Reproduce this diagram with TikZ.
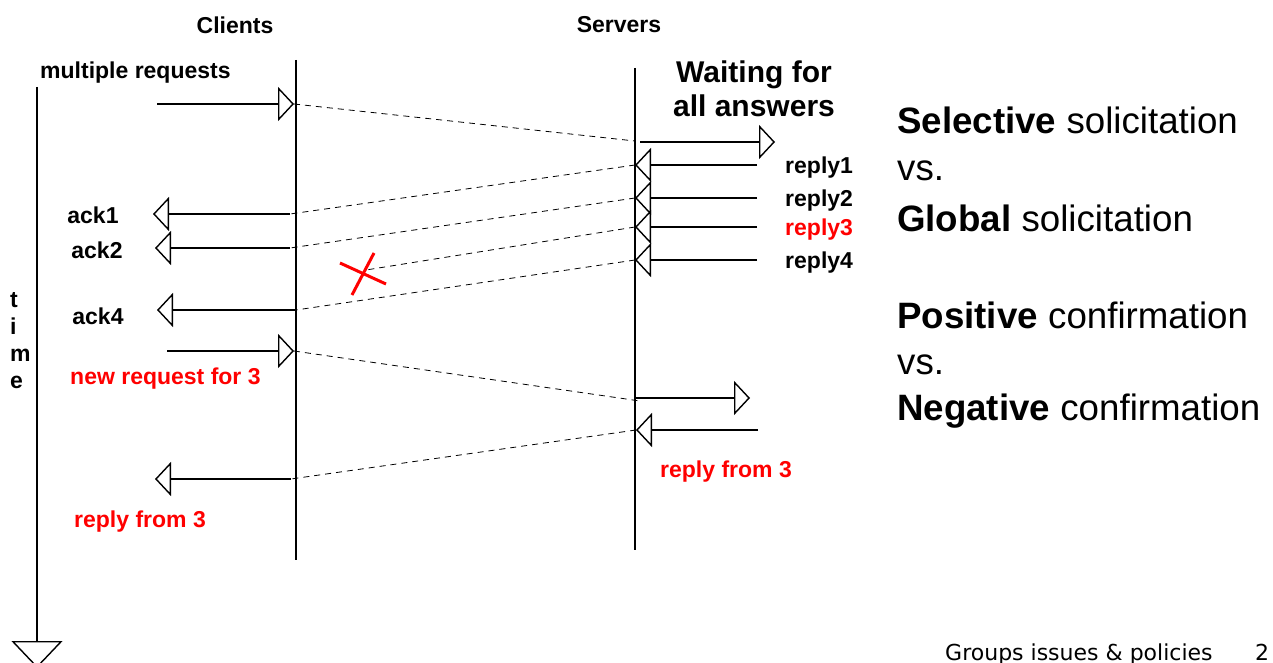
\documentclass[tikz,border=0pt]{standalone}
\usepackage{fontspec}
\setmainfont{Liberation Sans}
\newfontfamily\footfont{DejaVu Sans}
\usetikzlibrary{arrows.meta, calc, positioning}
\definecolor{rd}{RGB}{255, 0, 0}
\definecolor{b}{HTML}{000000}

\tikzset{
	lbl/.style={font=\fontsize{23}{27}\selectfont\bfseries, text=b, inner sep=0pt},
	redlbl/.style={lbl, text=rd},
	big/.style={font=\fontsize{36.7}{40}\selectfont, text=b, inner sep=0pt, anchor=west},
	msg/.style={draw=b, line width=1.4pt, -{Triangle[open, length=16pt, width=34pt]}},
	link/.style={draw=b, line width=0.8pt, dash pattern=on 6pt off 5pt}
}

\begin{document}
\begin{tikzpicture}[x=1pt, y=-1pt]
			\useasboundingbox (0, 0) rectangle (1273, 663);
			
			% time lines
			\coordinate (Ctop) at (296, 60);
			\coordinate (Cbot) at (296, 560);
			\coordinate (Stop) at (635, 68);
			\coordinate (Sbot) at (635, 550);
			\coordinate (Ttop) at (37, 87);
			\coordinate (Tbot) at (37, 668);
			
			\draw[draw=b, line width=1.4pt] (Ctop) -- (Cbot);
			\draw[draw=b, line width=1.4pt] (Stop) -- (Sbot);
			\draw[draw=b, line width=1.4pt, -{Triangle[open, length=27pt, width=51pt]}] (Ttop) -- (Tbot);
			
			\node[lbl] (clients) at (235, 25) {Clients};
			\node[lbl] (servers) at (619, 25) {Servers};
			\node[lbl, anchor=west] (multi) at (40, 73) {multiple requests};
			\node[lbl, font=\fontsize{30}{34}\selectfont\bfseries, align=center] (wait) at (754, 89) {Waiting for\\all answers};
			\node[lbl, anchor=north west, align=left, font=\fontsize{23}{27}\selectfont\bfseries] (time) at (10, 292) {t\\i\\m\\e};
			
			% first round
			\coordinate (Rq) at (157, 104);
			\coordinate (RqC) at (294, 104);
			\coordinate (RqS) at (635, 141);
			\coordinate (W) at (640, 142);
			\coordinate (We) at (775, 142);
			\draw[msg] (Rq) -- (RqC);
			\draw[link] (RqC) -- (RqS);
			\draw[msg] (W) -- (We);
			
			\foreach \i/\y/\c in {1/165/b, 2/198/b, 3/227/rd, 4/260/b}{
				\coordinate (R\i) at (757, \y);
				\coordinate (R\i S) at (635, \y);
				\draw[msg] (R\i) -- (R\i S);
				\node[lbl, text=\c, anchor=west] (reply\i) at (785, \y+3) {reply\i};
			}
			
			\coordinate (A1C) at (290, 214);
			\coordinate (A1) at (153, 214);
			\coordinate (A2C) at (290, 248);
			\coordinate (A2) at (155, 248);
			\coordinate (A4C) at (296, 310);
			\coordinate (A4) at (157, 310);
			\coordinate (lost) at (366, 270);
			
			\draw[msg] (A1C) -- (A1);
			\draw[msg] (A2C) -- (A2);
			\draw[msg] (A4C) -- (A4);
			\draw[link] (R1S) -- (A1C);
			\draw[link] (R2S) -- (A2C);
			\draw[link] (R3S) -- (lost);
			\draw[link] (R4S) -- (A4C);
			
			% lost reply
			\draw[draw=rd, line width=3pt] ($(lost)+(-26, -7)$) -- ($(lost)+(20, 14)$);
			\draw[draw=rd, line width=3pt] ($(lost)+(8, -17)$) -- ($(lost)+(-14, 25)$);
			
			\node[lbl] (ack1) at (93, 215) {ack1};
			\node[lbl] (ack2) at (97, 250) {ack2};
			\node[lbl] (ack4) at (98, 316) {ack4};
			
			% second round
			\coordinate (Nq) at (167, 351);
			\coordinate (NqC) at (294, 351);
			\coordinate (NqS) at (640, 401);
			\coordinate (N) at (636, 398);
			\coordinate (Ne) at (750, 398);
			\coordinate (R5) at (758, 430);
			\coordinate (R5S) at (636, 430);
			\coordinate (A3C) at (291, 479);
			\coordinate (A3) at (155, 479);
			
			\draw[msg] (Nq) -- (NqC);
			\draw[link] (NqC) -- (NqS);
			\draw[msg] (N) -- (Ne);
			\draw[msg] (R5) -- (R5S);
			\draw[link] (R5S) -- (A3C);
			\draw[msg] (A3C) -- (A3);
			
			\node[redlbl, anchor=west] (newreq) at (70, 379) {new request for 3};
			\node[redlbl] (rfs) at (726, 472) {reply from 3};
			\node[redlbl] (rfc) at (140, 522) {reply from 3};
			
			% right hand side
			\node[big] (sel) at (897, 120) {\textbf{Selective} solicitation};
			\node[big] (vs1) at (897, 171) {vs.};
			\node[big] (glob) at (897, 218) {\textbf{Global} solicitation};
			\node[big] (pos) at (897, 315) {\textbf{Positive} confirmation};
			\node[big] (vs2) at (897, 365) {vs.};
			\node[big] (neg) at (897, 411) {\textbf{Negative} confirmation};
			
			\node[font=\footfont\fontsize{22}{26}\selectfont, text=b, inner sep=0pt, anchor=base west] (foot) at (945, 660) {Groups issues \& policies};
			\node[font=\footfont\fontsize{22}{26}\selectfont, text=b, inner sep=0pt, anchor=base west] (page) at (1255, 660) {2};
			
\end{tikzpicture}
\end{document}
